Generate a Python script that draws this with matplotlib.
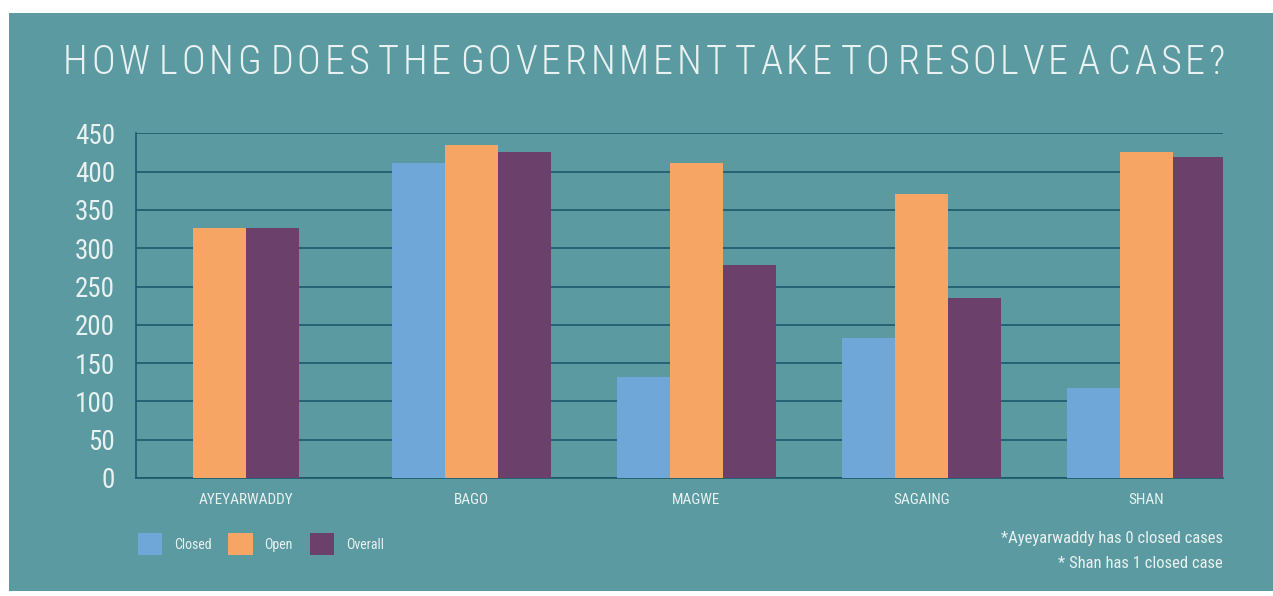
import numpy as np
import matplotlib
matplotlib.use("Agg")
import matplotlib.pyplot as plt
from matplotlib import font_manager
from matplotlib.patches import Rectangle, Patch

# data (days)
regions = ["AYEYARWADDY", "BAGO", "MAGWE", "SAGAING", "SHAN"]
closed = [0, 411, 132, 183, 117]
open_ = [326, 435, 411, 371, 426]
overall = [326, 426, 278, 235, 419]
series_names = ["Closed", "Open", "Overall"]
yticks = list(range(0, 451, 50))
title = "HOW LONG DOES THE GOVERNMENT TAKE TO RESOLVE A CASE?"
notes = ["*Ayeyarwaddy has 0 closed cases", "* Shan has 1 closed case"]

BG = "#5a9aa0"
GRID = "#1b5a6c"
TXT = "#e9f1f1"
colors = ["#6fa8d8", "#f7a564", "#6b416b"]


def pick(*names):
    for n in names:
        try:
            font_manager.findfont(font_manager.FontProperties(family=n),
                                  fallback_to_default=False)
            return n
        except ValueError:
            pass
    return "DejaVu Sans"


narrow = pick("Roboto Condensed", "Liberation Sans Narrow", "DejaVu Sans")

W, H = 1273, 596
fig = plt.figure(figsize=(W / 100, H / 100), dpi=100, facecolor="white")
# teal card behind everything
fig.patches.append(Rectangle((9 / W, 5 / H), (W - 9) / W, (H - 18) / H,
                             transform=fig.transFigure, facecolor=BG,
                             edgecolor="none", zorder=-10))

ax = fig.add_axes([136 / W, 118 / H, 1087 / W, 344.7 / H])
ax.set_zorder(2)
ax.set_facecolor("none")

x = np.arange(len(regions))
bw = 0.235
data = np.array([closed, open_, overall])
for i in range(len(regions)):
    shown = [k for k in range(3) if data[k, i] > 0]
    offs = (np.arange(len(shown)) - (len(shown) - 1) / 2) * bw
    for o, k in zip(offs, shown):
        ax.bar(x[i] + o, data[k, i], width=bw, color=colors[k], zorder=3,
               linewidth=0)

ax.set_xlim(-0.49, 4.34)
ax.set_ylim(0, 450)
ax.set_yticks(yticks)
ax.set_xticks(x)
ax.set_xticklabels(regions)
ax.yaxis.grid(True, color=GRID, linewidth=1.2, zorder=0)
ax.set_axisbelow(True)
for s in ["top", "right"]:
    ax.spines[s].set_visible(False)
for s in ["left", "bottom"]:
    ax.spines[s].set_color(GRID)
    ax.spines[s].set_linewidth(1.2)
ax.tick_params(axis="both", length=0)
ax.tick_params(axis="y", pad=15, labelsize=19.5, labelcolor=TXT)
ax.tick_params(axis="x", pad=11, labelsize=11, labelcolor=TXT)
for lab in ax.get_yticklabels() + ax.get_xticklabels():
    lab.set_family(narrow)

# letter-spaced title, stretched from x=63 to x=1225 px
renderer = fig.canvas.get_renderer()
chars = list(title)
widths = []
for c in chars:
    if c == " ":
        widths.append(0)
        continue
    t = fig.text(0, 0, c, fontsize=29, family=narrow, fontweight="light")
    widths.append(t.get_window_extent(renderer).width)
    t.remove()
n_sp = chars.count(" ")
gap = (1225 - 63 - sum(widths)) / (len(chars) - 1 + 0.3 * n_sp)
xp = 63
for c, w in zip(chars, widths):
    if c == " ":
        xp += gap * 1.3
        continue
    fig.text(xp / W, 1 - 63 / H, c, fontsize=29, family=narrow,
             fontweight="light", color=TXT, va="center", ha="left")
    xp += w + gap

handles = [Patch(facecolor=c, edgecolor="none") for c in colors]
leg = fig.legend(handles, series_names, loc="upper left",
                 bbox_to_anchor=(138 / W, 1 - 533 / H), ncol=3,
                 frameon=False, borderpad=0, borderaxespad=0,
                 handlelength=1.75, handleheight=2.1, handletextpad=0.85,
                 columnspacing=1.2, prop={"family": narrow, "size": 10})
for t in leg.get_texts():
    t.set_color(TXT)

fig.text(1223 / W, 1 - 539 / H, notes[0], ha="right", va="center",
         fontsize=12, family=narrow, color=TXT)
fig.text(1223 / W, 1 - 563 / H, notes[1], ha="right", va="center",
         fontsize=12, family=narrow, color=TXT)

fig.savefig("out.png", dpi=100, facecolor="white")
